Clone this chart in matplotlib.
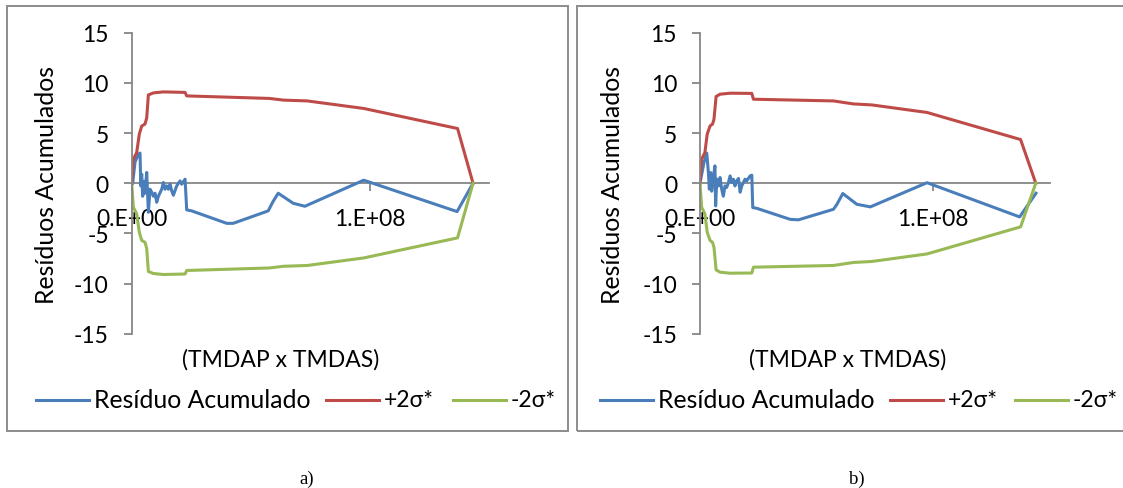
import numpy as np
import matplotlib
matplotlib.use("Agg")
import matplotlib.pyplot as plt
from matplotlib.patches import Rectangle
from matplotlib.lines import Line2D

plt.rcParams['font.family'] = ['Lato', 'DejaVu Sans']

W, H = 1123, 489
FS = 16.5
FS_LOW = 17.8   # lowercase-heavy texts (Lato is narrower than the original font there)

# x values in units of 1e8 (TMDAP x TMDAS)
sig_a_x = [0, 0.007, 0.021, 0.032, 0.042, 0.056, 0.063, 0.070, 0.091, 0.133, 0.224, 0.231,
           0.577, 0.638, 0.737, 0.974, 1.368, 1.433]
sig_a_up = [0, 2.4, 3.06, 4.9, 5.7, 5.9, 6.5, 8.8, 9.0, 9.1, 9.05, 8.7,
            8.45, 8.28, 8.2, 7.45, 5.45, 0]
sig_a_dn = [0, -2.4, -3.06, -4.9, -5.7, -5.9, -6.5, -8.8, -9.0, -9.1, -9.05, -8.7,
            -8.45, -8.28, -8.2, -7.45, -5.45, 0]
res_a_x = [0.004, 0.014, 0.028, 0.035, 0.038, 0.042, 0.046, 0.052, 0.056, 0.063, 0.070,
           0.077, 0.084, 0.091, 0.098, 0.105, 0.112, 0.126, 0.133, 0.140, 0.147, 0.154,
           0.161, 0.168, 0.175, 0.189, 0.203, 0.210, 0.224, 0.231, 0.252, 0.399, 0.426,
           0.573, 0.594, 0.615, 0.678, 0.727, 0.974, 1.366, 1.433]
res_a_y = [0, 2.1, 2.9, 3.0, -0.27, 0.9, -1.3, 0.2, -1.0, 1.07, -2.9,
           -0.6, -0.9, -1.3, -1.0, -1.9, -1.3, -0.6, 0.07, -0.6, -0.27, -0.6,
           -0.1, -0.77, -1.2, -0.27, 0.23, -0.1, 0.4, -2.66, -2.76, -4.0, -4.0,
           -2.76, -1.8, -1.0, -2.0, -2.3, 0.3, -2.83, 0]

sig_b_x = [0, 0.007, 0.021, 0.031, 0.043, 0.054, 0.060, 0.069, 0.086, 0.129, 0.222, 0.229,
           0.572, 0.658, 0.737, 0.973, 1.374, 1.439]
sig_b_up = [0, 2.4, 3.06, 4.9, 5.7, 5.9, 6.4, 8.64, 8.87, 8.97, 8.95, 8.37,
            8.2, 7.9, 7.8, 7.05, 4.35, 0]
sig_b_dn = [0, -2.4, -3.06, -4.9, -5.7, -5.9, -6.4, -8.64, -8.87, -8.97, -8.95, -8.37,
            -8.2, -7.9, -7.8, -7.05, -4.35, 0]
res_b_x = [0, 0.017, 0.029, 0.036, 0.040, 0.046, 0.050, 0.057, 0.064, 0.067, 0.072, 0.079,
           0.086, 0.093, 0.100, 0.107, 0.114, 0.122, 0.129, 0.136, 0.143, 0.150, 0.157,
           0.165, 0.172, 0.179, 0.193, 0.200, 0.215, 0.222, 0.226, 0.243, 0.386, 0.422,
           0.572, 0.587, 0.612, 0.672, 0.730, 0.973, 1.370, 1.440]
res_b_y = [0, 2.06, 3.0, 1.06, -0.6, 1.06, -0.8, 0.5, 1.73, -2.26, 0.4, -0.27,
           0.57, -0.6, -1.3, -0.27, -0.43, 0.07, 0.73, 0.07, 0.4, -0.27, 0.23,
           0.47, -0.9, -0.27, 0.4, 0.23, 0.73, 0.8, -2.43, -2.5, -3.6, -3.65,
           -2.6, -2.1, -1.03, -2.1, -2.36, 0.05, -3.36, -1.0]

y_ticks = [-15, -10, -5, 0, 5, 10, 15]
x_ticks = [0, 1e8]
x_tick_labels = ["0.E+00", "1.E+08"]
labels = ["Resíduo Acumulado", "+2σ*", "-2σ*"]
panel_names = ["a)", "b)"]

c_blue, c_red, c_green = "#4A7EBB", "#BE4B48", "#98B954"
colors = [c_blue, c_red, c_green]
gray = "#868686"

fig = plt.figure(figsize=(W / 100, H / 100), dpi=100)


def px(x0, y0, x1, y1):
    # pixel box (top-left origin) -> figure fraction [l, b, w, h]
    return [x0 / W, 1 - y1 / H, (x1 - x0) / W, (y1 - y0) / H]


panels = [
    dict(ax=px(131.7, 33.7, 489, 334.7), box=(7.3, 7.3, 567.5, 432.3), ylab_x=47,
         xlab_x=281, leg=[36, 325.7, 453], name_x=307,
         data=(sig_a_x, sig_a_up, sig_a_dn, res_a_x, res_a_y)),
    dict(ax=px(700, 33.7, 1050, 334.7), box=(577, 7.3, 1135, 432.3), ylab_x=613,
         xlab_x=848, leg=[600, 890, 1015], name_x=857,
         data=(sig_b_x, sig_b_up, sig_b_dn, res_b_x, res_b_y)),
]

for i, p in enumerate(panels):
    bx0, by0, bx1, by1 = p["box"]
    fig.add_artist(Rectangle((bx0 / W, 1 - by1 / H), (bx1 - bx0) / W, (by1 - by0) / H,
                             transform=fig.transFigure, fill=False, ec="#8c8c8c", lw=1.4))
    ax = fig.add_axes(p["ax"])
    sx, sup, sdn, rx, ry = p["data"]
    ax.plot(np.array(rx) * 1e8, ry, color=c_blue, lw=2.2, solid_joinstyle="round")
    ax.plot(np.array(sx) * 1e8, sup, color=c_red, lw=2.2, solid_joinstyle="round")
    ax.plot(np.array(sx) * 1e8, sdn, color=c_green, lw=2.2, solid_joinstyle="round")

    ax.set_xlim(0, 1.5e8)
    ax.set_ylim(-15, 15)
    ax.set_facecolor("none")
    for s in ["top", "right"]:
        ax.spines[s].set_visible(False)
    ax.spines["bottom"].set_position(("data", 0))
    for s in ["bottom", "left"]:
        ax.spines[s].set_color(gray)
        ax.spines[s].set_linewidth(1.3)
    ax.spines["bottom"].set_zorder(0.5)
    ax.set_yticks(y_ticks)
    ax.set_yticklabels([str(v) for v in y_ticks])
    ax.set_xticks(x_ticks)
    ax.set_xticklabels(x_tick_labels)
    ax.tick_params(axis="y", length=5.5, width=1.3, color=gray, pad=11, labelsize=FS)
    ax.tick_params(axis="x", length=5.5, width=1.3, color=gray, pad=12, labelsize=FS)

    fig.text(p["ylab_x"] / W, 1 - 184.5 / H, "Resíduos Acumulados", rotation=90,
             ha="center", va="center", fontsize=FS_LOW)
    fig.text(p["xlab_x"] / W, 1 - 360 / H, "(TMDAP x TMDAS)", ha="center", va="center",
             fontsize=FS)

    # legend entries: handle 53 px long, text 6 px after it
    ly = 1 - 401 / H
    for x0, lab, c in zip(p["leg"], labels, colors):
        fig.add_artist(Line2D([x0 / W, (x0 + 53) / W], [ly, ly], transform=fig.transFigure,
                              color=c, lw=2.2))
        fig.text((x0 + 58) / W, ly, lab, ha="left", va="center",
                 fontsize=FS_LOW if len(lab) > 5 else FS)

    fig.text(p["name_x"] / W, 1 - 479 / H, panel_names[i], ha="center", va="center",
             fontsize=13.5, family=["Liberation Serif"])

fig.savefig("out.png", dpi=100)
